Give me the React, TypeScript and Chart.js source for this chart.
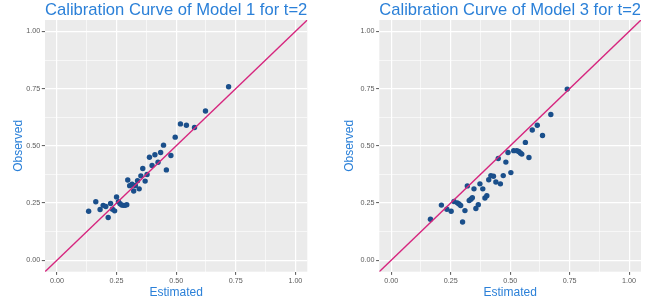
import React, { useEffect, useRef } from "react";
import { Chart, registerables } from "chart.js";

Chart.register(...registerables);

// ---------- data ----------
const model1Estimated = [
  0.133, 0.163, 0.181, 0.194, 0.205, 0.215, 0.225, 0.233, 0.242, 0.250,
  0.258, 0.265, 0.272, 0.279, 0.286, 0.293, 0.297, 0.305, 0.315, 0.322,
  0.329, 0.338, 0.345, 0.352, 0.360, 0.370, 0.378, 0.388, 0.399, 0.411,
  0.424, 0.435, 0.447, 0.459, 0.478, 0.496, 0.518, 0.543, 0.577, 0.623,
  0.720,
];
const model1Observed = [
  0.214, 0.256, 0.222, 0.240, 0.235, 0.187, 0.248, 0.223, 0.216, 0.277,
  0.256, 0.247, 0.241, 0.240, 0.240, 0.243, 0.351, 0.326, 0.332, 0.303,
  0.327, 0.348, 0.312, 0.369, 0.401, 0.346, 0.375, 0.450, 0.414, 0.461,
  0.428, 0.471, 0.503, 0.395, 0.458, 0.538, 0.596, 0.590, 0.580, 0.652,
  0.758,
];
const model3Estimated = [
  0.165, 0.211, 0.234, 0.252, 0.264, 0.278, 0.285, 0.292, 0.300, 0.310,
  0.320, 0.328, 0.335, 0.341, 0.348, 0.356, 0.366, 0.373, 0.385, 0.394,
  0.402, 0.410, 0.419, 0.430, 0.440, 0.450, 0.459, 0.471, 0.482, 0.491,
  0.503, 0.515, 0.528, 0.536, 0.543, 0.549, 0.564, 0.579, 0.593, 0.614,
  0.636, 0.671, 0.740,
];
const model3Observed = [
  0.179, 0.241, 0.223, 0.214, 0.257, 0.251, 0.246, 0.239, 0.167, 0.217,
  0.325, 0.261, 0.267, 0.273, 0.312, 0.226, 0.243, 0.334, 0.312, 0.272,
  0.282, 0.352, 0.370, 0.367, 0.342, 0.445, 0.334, 0.370, 0.429, 0.471,
  0.383, 0.479, 0.479, 0.475, 0.469, 0.464, 0.515, 0.449, 0.569, 0.590,
  0.545, 0.637, 0.748,
];
const majorTicks = [0, 0.25, 0.5, 0.75, 1.0];
const majorTickLabels = ["0.00", "0.25", "0.50", "0.75", "1.00"];
const minorTicks = [0.125, 0.375, 0.625, 0.875];
const axisRange = [-0.05, 1.05];
const referenceLine = [-0.05, 1.05]; // y = x

const TITLE_BLUE = "#2b80d8";
const POINT_BLUE = "#1a4f8b";
const LINE_PINK = "#d6267e";
const FONT = "'Liberation Sans', Arial, sans-serif";

type PanelProps = {
  title: string;
  xs: number[];
  ys: number[];
  left: number;
  plotLeft: number;
  plotRight: number;
};

const W = 331;
const H = 305;
const PLOT_TOP = 20;
const PLOT_BOTTOM = 271.7;

const bgPlugin = {
  id: "panelBg",
  beforeDraw(chart: any) {
    const { ctx, chartArea } = chart;
    ctx.save();
    ctx.fillStyle = "#ebebeb";
    ctx.fillRect(chartArea.left, chartArea.top, chartArea.right - chartArea.left, chartArea.bottom - chartArea.top);
    ctx.restore();
  },
};

function isMajor(v: number) {
  return majorTicks.some((m) => Math.abs(m - v) < 1e-6);
}
function labelFor(v: number) {
  const i = majorTicks.findIndex((m) => Math.abs(m - v) < 1e-6);
  return i >= 0 ? majorTickLabels[i] : "";
}

function makeAxis(kind: "x" | "y", size: number, titleText: string) {
  return {
    type: "linear",
    position: kind === "x" ? "bottom" : "left",
    min: axisRange[0],
    max: axisRange[1],
    afterBuildTicks(scale: any) {
      scale.ticks = [...majorTicks, ...minorTicks].sort((a, b) => a - b).map((v) => ({ value: v }));
    },
    afterFit(scale: any) {
      if (kind === "x") scale.height = size;
      else scale.width = size;
    },
    border: { display: false },
    grid: {
      color: "#ffffff",
      lineWidth: (c: any) => (c.tick && isMajor(c.tick.value) ? 1.2 : 0.6),
      tickColor: (c: any) => (c.tick && isMajor(c.tick.value) ? "#555555" : "rgba(0,0,0,0)"),
      tickLength: 3.2,
      tickWidth: 1,
    },
    ticks: {
      autoSkip: false,
      maxRotation: 0,
      padding: 1.5,
      color: "#5a5a5a",
      font: { family: FONT, size: 7.2 },
      callback: (v: any) => labelFor(Number(v)),
    },
    title: {
      display: true,
      text: titleText,
      color: TITLE_BLUE,
      font: { family: FONT, size: 12 },
      padding: kind === "x" ? { top: 0, bottom: 5.5 } : { top: 11, bottom: 0 },
    },
  };
}

function Panel({ title, xs, ys, left, plotLeft, plotRight }: PanelProps) {
  const ref = useRef<HTMLCanvasElement | null>(null);
  useEffect(() => {
    if (!ref.current) return;
    const points = xs.map((x, i) => ({ x, y: ys[i] }));
    const line = referenceLine.map((v) => ({ x: v, y: v }));
    const chart = new Chart(ref.current, {
      type: "scatter",
      data: {
        datasets: [
          {
            type: "line",
            data: line,
            borderColor: LINE_PINK,
            borderWidth: 1.4,
            pointRadius: 0,
            showLine: true,
            fill: false,
          } as any,
          {
            type: "scatter",
            data: points,
            backgroundColor: POINT_BLUE,
            borderWidth: 0,
            pointRadius: 2.7,
          } as any,
        ],
      },
      options: {
        responsive: false,
        animation: false,
        devicePixelRatio: 1,
        layout: { padding: { left: 0, right: W - plotRight, top: 0, bottom: 0 } },
        plugins: {
          legend: { display: false },
          tooltip: { enabled: false },
          title: {
            display: true,
            text: title,
            align: "start",
            fullSize: false,
            color: TITLE_BLUE,
            font: { family: FONT, size: 16.6, weight: "normal", lineHeight: 1.2 },
            padding: { top: 0, bottom: PLOT_TOP - 16.6 * 1.2 },
          },
        },
        scales: {
          x: makeAxis("x", H - PLOT_BOTTOM, "Estimated"),
          y: makeAxis("y", plotLeft, "Observed"),
        } as any,
      },
      plugins: [bgPlugin],
    });
    return () => chart.destroy();
  }, [title, xs, ys, plotLeft, plotRight]);
  return (
    <canvas
      ref={ref}
      width={W}
      height={H}
      style={{ position: "absolute", left, top: 0, width: W, height: H }}
    />
  );
}

export default function App() {
  return (
    <div style={{ position: "absolute", left: 0, top: 0, width: 662, height: 305, background: "#ffffff" }}>
      <Panel title="Calibration Curve of Model 1 for t=2" xs={model1Estimated} ys={model1Observed} left={0} plotLeft={45} plotRight={307.3} />
      <Panel title="Calibration Curve of Model 3 for t=2" xs={model3Estimated} ys={model3Observed} left={331} plotLeft={48.3} plotRight={310} />
    </div>
  );
}
